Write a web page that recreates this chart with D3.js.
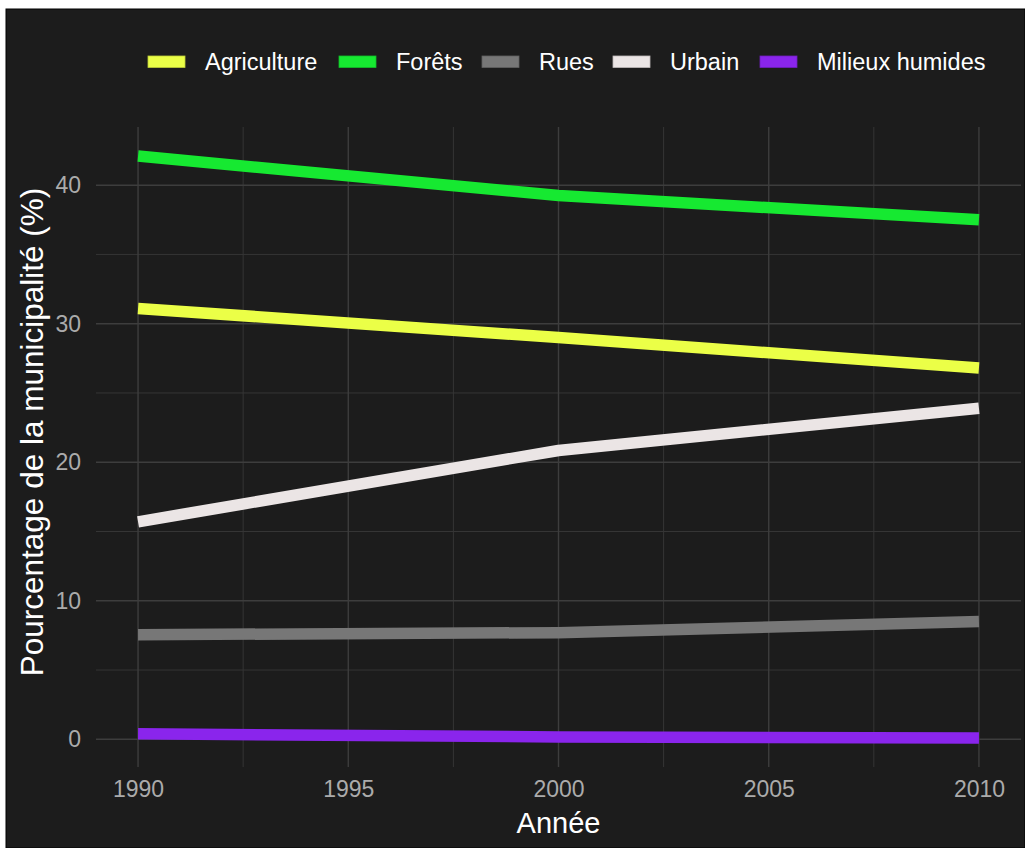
<!DOCTYPE html>
<html>
<head>
<meta charset="utf-8">
<script src="https://cdn.jsdelivr.net/npm/d3@7"></script>
<style>
  html, body { margin: 0; padding: 0; background: #ffffff; }
  svg { display: block; }
  text { font-family: "Liberation Sans", Arial, Helvetica, sans-serif; }
</style>
</head>
<body>
<svg id="chart" width="1025" height="848"></svg>
<script>
// ---- Data ----
const years = [1990, 2000, 2010];
const categories = ["Agriculture", "Forêts", "Rues", "Urbain", "Milieux humides"];
const agriculture = [31.1, 29.0, 26.8];
const forets = [42.1, 39.25, 37.5];
const rues = [7.55, 7.7, 8.5];
const urbain = [15.7, 20.85, 23.9];
const milieuxHumides = [0.4, 0.17, 0.1];
const colors = ["#ebff47", "#16e931", "#777777", "#ebe5e5", "#8a25ec"];
const xTicks = [1990, 1995, 2000, 2005, 2010];
const yTicks = [0, 10, 20, 30, 40];
const xTitle = "Année";
const yTitle = "Pourcentage de la municipalité (%)";

const seriesValues = [agriculture, forets, rues, urbain, milieuxHumides];
const series = categories.map((name, i) => ({
  name, color: colors[i],
  values: years.map((y, j) => ({ year: y, value: seriesValues[i][j] }))
}));

const svg = d3.select("#chart");
const W = 1025, H = 848;

// background
svg.append("rect").attr("x", 6).attr("y", 9).attr("width", W - 6).attr("height", H - 9)
  .attr("fill", "#1c1c1c").attr("stroke", "#000").attr("stroke-width", 1);

const panel = { left: 96, right: 1021, top: 127, bottom: 767 };

// scales with ggplot-like 5% expansion
const xExt = d3.extent(years);
const xPad = (xExt[1] - xExt[0]) * 0.05;
const x = d3.scaleLinear().domain([xExt[0] - xPad, xExt[1] + xPad]).range([panel.left, panel.right]);
const allVals = seriesValues.flat();
const yExt = d3.extent(allVals);
const yPad = (yExt[1] - yExt[0]) * 0.05;
const y = d3.scaleLinear().domain([yExt[0] - yPad, yExt[1] + yPad]).range([panel.bottom, panel.top]);

const grid = svg.append("g");
// minor gridlines
const xMinor = xTicks.slice(0, -1).map((t, i) => (t + xTicks[i + 1]) / 2);
const yMinor = yTicks.slice(0, -1).map((t, i) => (t + yTicks[i + 1]) / 2);
grid.selectAll(".xminor").data(xMinor).join("line")
  .attr("x1", d => x(d)).attr("x2", d => x(d)).attr("y1", panel.top).attr("y2", panel.bottom)
  .attr("stroke", "#353535").attr("stroke-width", 1);
grid.selectAll(".yminor").data(yMinor).join("line")
  .attr("y1", d => y(d)).attr("y2", d => y(d)).attr("x1", panel.left).attr("x2", panel.right)
  .attr("stroke", "#353535").attr("stroke-width", 1);
// major gridlines
grid.selectAll(".xmajor").data(xTicks).join("line")
  .attr("x1", d => x(d)).attr("x2", d => x(d)).attr("y1", panel.top).attr("y2", panel.bottom)
  .attr("stroke", "#3d3d3d").attr("stroke-width", 1.4);
grid.selectAll(".ymajor").data(yTicks).join("line")
  .attr("y1", d => y(d)).attr("y2", d => y(d)).attr("x1", panel.left).attr("x2", panel.right)
  .attr("stroke", "#3d3d3d").attr("stroke-width", 1.4);

// axes (labels only, via d3 axes)
const xAxis = svg.append("g").attr("transform", `translate(0,${panel.bottom})`)
  .call(d3.axisBottom(x).tickValues(xTicks).tickFormat(d3.format("d")).tickSize(0).tickPadding(14));
xAxis.select(".domain").remove();
xAxis.selectAll("text").attr("fill", "#ababab").attr("font-size", 23)
  .attr("font-family", "Liberation Sans, Arial, sans-serif");

const yAxis = svg.append("g").attr("transform", `translate(${panel.left},0)`)
  .call(d3.axisLeft(y).tickValues(yTicks).tickFormat(d3.format("d")).tickSize(0).tickPadding(15));
yAxis.select(".domain").remove();
yAxis.selectAll("text").attr("fill", "#ababab").attr("font-size", 23)
  .attr("font-family", "Liberation Sans, Arial, sans-serif");

// lines
const line = d3.line().x(d => x(d.year)).y(d => y(d.value));
svg.append("g").selectAll("path").data(series).join("path")
  .attr("d", d => line(d.values))
  .attr("fill", "none").attr("stroke", d => d.color)
  .attr("stroke-width", 11.5).attr("stroke-linecap", "butt").attr("stroke-linejoin", "round");

// titles
svg.append("text").attr("x", (panel.left + panel.right) / 2).attr("y", 833)
  .attr("text-anchor", "middle").attr("fill", "#ffffff").attr("font-size", 29).text(xTitle);
svg.append("text")
  .attr("transform", `translate(43,${(panel.top + panel.bottom) / 2 - 15}) rotate(-90)`)
  .attr("text-anchor", "middle").attr("fill", "#ffffff").attr("font-size", 31.5).text(yTitle);

// legend
const legendKeyX = [148, 339, 482, 613, 760];
const legend = svg.append("g");
series.forEach((s, i) => {
  legend.append("rect").attr("x", legendKeyX[i]).attr("y", 56).attr("width", 37).attr("height", 11.5)
    .attr("fill", s.color).attr("stroke", d3.color(s.color).darker(0.6)).attr("stroke-width", 0.8);
  legend.append("text").attr("x", legendKeyX[i] + 57).attr("y", 70)
    .attr("fill", "#ffffff").attr("font-size", 23.5).text(s.name);
});
</script>
</body>
</html>
